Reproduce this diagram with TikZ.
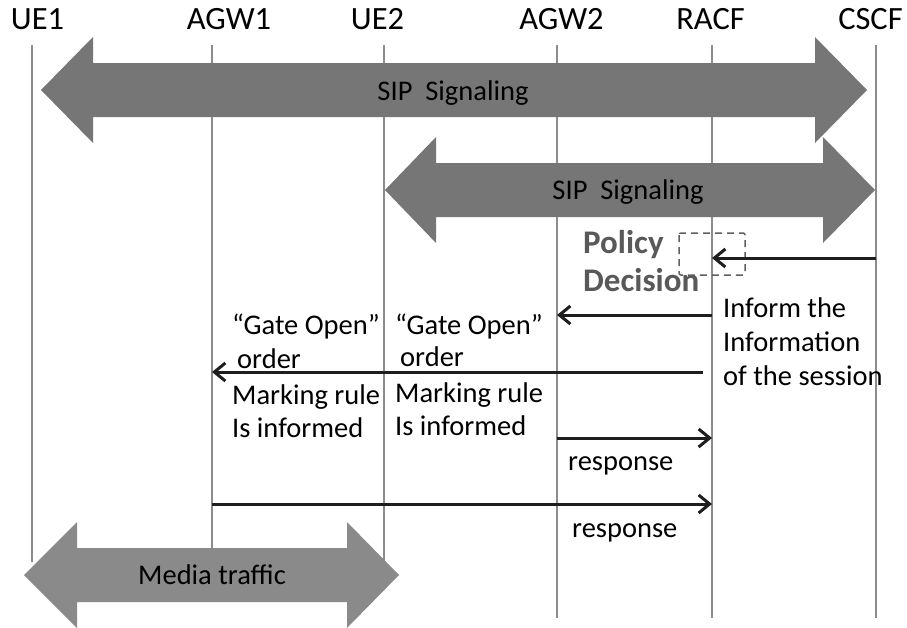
\documentclass[tikz,border=0pt]{standalone}
\usepackage{fontspec}
\setmainfont{Carlito}
\usetikzlibrary{arrows.meta}
\definecolor{lifelinegray}{HTML}{8C8C8C}
\definecolor{sipfill}{HTML}{767676}
\definecolor{mediafill}{HTML}{8A8A8A}
\definecolor{msgline}{HTML}{1E1E1E}
\definecolor{policytext}{HTML}{595959}
\definecolor{boxline}{HTML}{606060}

\begin{document}
\begin{tikzpicture}[x=1pt,y=-1pt,
  lifeline/.style={draw=lifelinegray, line width=1.5pt},
  sipband/.style={fill=sipfill, draw=none},
  mediaband/.style={fill=mediafill, draw=none},
  msg/.style={draw=msgline, line width=3pt, -{Straight Barb[length=11pt,width=18pt]}},
  entity/.style={font=\fontsize{32.5}{39}\selectfont, inner sep=0pt,
                 text height=0.632em, text depth=0pt},
  bandtext/.style={font=\fontsize{28.5}{34}\selectfont, inner sep=0pt,
                   text height=0.632em, text depth=0pt},
  note/.style={font=\fontsize{28.5}{34}\selectfont, inner sep=0pt,
               text height=0.632em, text depth=0pt, anchor=west},
  decision/.style={font=\fontsize{33}{39}\selectfont\bfseries, text=policytext,
                   inner sep=0pt, text height=0.632em, text depth=0pt, anchor=west},
  decisionbox/.style={draw=boxline, line width=1.5pt, dash pattern=on 7pt off 5pt,
                      rounded corners=2pt}
]
\useasboundingbox (0,0) rectangle (907,627);

% entity names
\node[entity] (ue1)  at (37.5,26)  {UE1};
\node[entity] (agw1) at (229,26)   {AGW1};
\node[entity] (ue2)  at (377.5,26) {UE2};
\node[entity] (agw2) at (561.5,26) {AGW2};
\node[entity] (racf) at (710.5,26) {RACF};
\node[entity] (cscf) at (870.5,26) {CSCF};

% lifelines
\coordinate (ue1t)  at (32,45);  \coordinate (ue1b)  at (32,562);
\coordinate (agw1t) at (212,45); \coordinate (agw1b) at (212,555);
\coordinate (ue2t)  at (384,45); \coordinate (ue2b)  at (384,562);
\coordinate (agw2t) at (557,45); \coordinate (agw2b) at (557,618);
\coordinate (racft) at (712,45); \coordinate (racfb) at (712,618);
\coordinate (cscft) at (876,45); \coordinate (cscfb) at (876,618);
\foreach \l in {ue1,agw1,ue2,agw2,racf,cscf}
  \draw[lifeline] (\l t) -- (\l b);

% SIP signalling between UE1 and CSCF
\fill[sipband] (41,90) -- (93,37) -- (93,63) -- (815,63) -- (815,37) -- (867,90)
  -- (815,143) -- (815,117) -- (93,117) -- (93,143) -- cycle;
\node[bandtext] (sip1) at (453,97) {SIP\ \ Signaling};

% SIP signalling between UE2 and CSCF
\fill[sipband] (385,190) -- (436,137) -- (436,163) -- (823,163) -- (823,137) -- (875,190)
  -- (823,243) -- (823,217) -- (436,217) -- (436,243) -- cycle;
\node[bandtext] (sip2) at (628,196) {SIP\ \ Signaling};

% media path between UE1 and UE2
\fill[mediaband] (24,575) -- (77,522) -- (77,548) -- (347,548) -- (347,522) -- (399,575)
  -- (347,628) -- (347,602) -- (77,602) -- (77,628) -- cycle;
\node[bandtext] (media) at (212,581) {Media traffic};

% policy decision at the RACF
\node[decision] (policy) at (583,250) {Policy};
\node[decision] (decis)  at (583,288) {Decision};
\draw[decisionbox] (679,233) rectangle (745,275);

% message end points on the lifelines
\coordinate (m1s) at (876,258); \coordinate (m1e) at (712,258);
\coordinate (m2s) at (712,315); \coordinate (m2e) at (557,315);
\coordinate (m3s) at (703,372); \coordinate (m3e) at (212,372);
\coordinate (m4s) at (557,438); \coordinate (m4e) at (712,438);
\coordinate (m5s) at (212,504); \coordinate (m5e) at (712,504);

\draw[msg] (m1s) -- (m1e);
\draw[msg] (m2s) -- (m2e);
\draw[msg] (m3s) -- (m3e);
\draw[msg] (m4s) -- (m4e);
\draw[msg] (m5s) -- (m5e);

% message texts
\node[note] (inf1) at (723,314) {Inform the};
\node[note] (inf2) at (723,348) {Information};
\node[note] (inf3) at (723,382) {of the session};

\node[note] (ga1) at (232,331) {“Gate Open”};
\node[note] (ga2) at (237,365) {order};
\node[note] (ga3) at (232,401) {Marking rule};
\node[note] (ga4) at (232,434) {Is informed};

\node[note] (gb1) at (395,331) {“Gate Open”};
\node[note] (gb2) at (400,363) {order};
\node[note] (gb3) at (395,399) {Marking rule};
\node[note] (gb4) at (395,432) {Is informed};

\node[note] (resp1) at (568,467) {response};
\node[note] (resp2) at (572,534) {response};
\end{tikzpicture}
\end{document}
